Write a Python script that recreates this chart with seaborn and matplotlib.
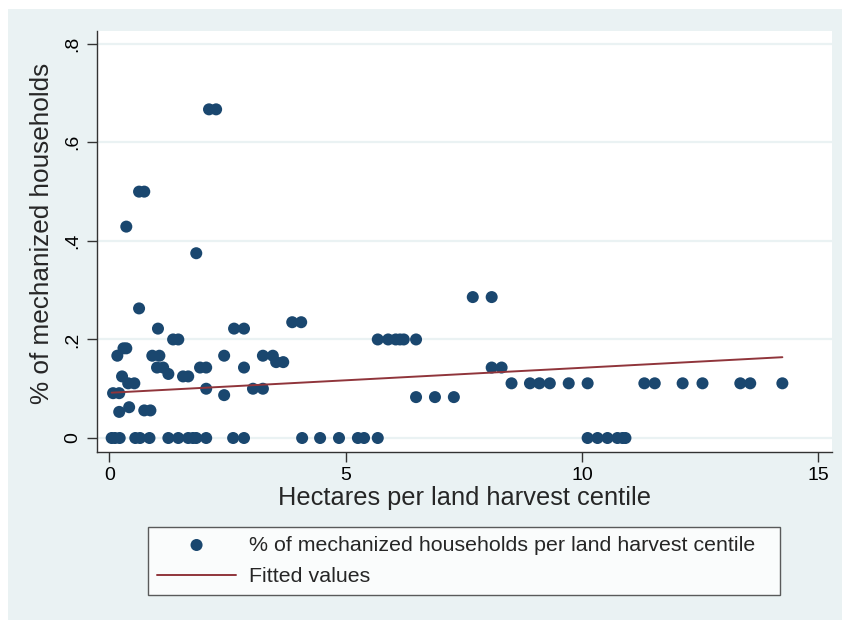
import matplotlib
matplotlib.use('Agg')
import matplotlib.pyplot as plt
import seaborn as sns
import pandas as pd
from matplotlib.patches import Rectangle

# hectares per centile and share of mechanized households
zero_x = [0.05, 0.12, 0.22, 0.55, 0.65, 0.85, 1.25, 1.46, 1.67, 1.77, 1.84, 2.05,
          2.62, 2.85, 4.08, 4.46, 4.86, 5.26, 5.39, 5.68,
          10.12, 10.33, 10.54, 10.75, 10.86, 10.92]

pos_x = [0.08, 0.21, 0.21, 0.42, 0.40, 0.53, 0.27, 0.17, 0.30, 0.36, 0.36,
         0.63, 0.74, 0.63, 0.74, 0.87, 0.91, 1.06, 1.03, 1.01, 1.14, 1.25,
         1.35, 1.46, 1.56, 1.67, 1.84, 1.92, 2.05, 2.05, 2.11, 2.26,
         2.43, 2.43, 2.64, 2.85, 2.85, 3.04, 3.25, 3.25, 3.46, 3.53, 3.68,
         3.87, 4.06,
         5.68, 5.90, 6.06, 6.15, 6.23, 6.49,
         6.49, 6.89, 7.29, 7.69, 8.09, 8.09, 8.30,
         8.51, 8.90, 9.10, 9.32, 9.72, 10.12, 11.32, 11.54, 12.13, 12.55,
         13.35, 13.56, 14.24]
pos_y = [0.091, 0.091, 0.053, 0.0625, 0.111, 0.111, 0.125, 0.167, 0.182, 0.182, 0.429,
         0.5, 0.5, 0.263, 0.056, 0.056, 0.167, 0.167, 0.222, 0.143, 0.143, 0.13,
         0.2, 0.2, 0.125, 0.125, 0.375, 0.143, 0.143, 0.1, 0.667, 0.667,
         0.167, 0.087, 0.222, 0.222, 0.143, 0.1, 0.1, 0.167, 0.167, 0.154, 0.154,
         0.235, 0.235,
         0.2, 0.2, 0.2, 0.2, 0.2, 0.2,
         0.083, 0.083, 0.083, 0.286, 0.286, 0.143, 0.143,
         0.111, 0.111, 0.111, 0.111, 0.111, 0.111, 0.111, 0.111, 0.111, 0.111,
         0.111, 0.111, 0.111]

fit_x = [0.05, 14.24]
fit_y = [0.092, 0.164]

y_ticks = [0, 0.2, 0.4, 0.6, 0.8]
y_tick_labels = ['0', '.2', '.4', '.6', '.8']
x_ticks = [0, 5, 10, 15]

scatter_label = '% of mechanized households per land harvest centile'
fit_label = 'Fitted values'

df = pd.DataFrame({'hectares': zero_x + pos_x,
                   'mech': [0.0] * len(zero_x) + pos_y})
df_fit = pd.DataFrame({'hectares': fit_x, 'fitted': fit_y})

sns.set_theme(style='white')
plt.rcParams['font.family'] = ['Liberation Sans', 'DejaVu Sans']

navy = '#1a476f'
maroon = '#90353b'
bg = '#eaf2f3'

fig = plt.figure(figsize=(8.42, 6.2), dpi=100)
fig.patch.set_facecolor('white')
fig.patches.append(Rectangle((8 / 842, 0), 1 - 8 / 842, 611 / 620, transform=fig.transFigure,
                             facecolor=bg, edgecolor='none', zorder=-10))

ax = fig.add_axes([97 / 842, 168 / 620, 735 / 842, 421 / 620])
ax.set_facecolor('white')

for t in y_ticks:
    ax.axhline(t, color=bg, linewidth=1.6, zorder=0)

sns.scatterplot(data=df, x='hectares', y='mech', color=navy, s=75, edgecolor='none',
                label=scatter_label, ax=ax, zorder=3)
sns.lineplot(data=df_fit, x='hectares', y='fitted', color=maroon, linewidth=1.4,
             label=fit_label, ax=ax, zorder=4)

ax.set_xlim(-0.26, 15.29)
ax.set_ylim(-0.0284, 0.826)
ax.set_xticks(x_ticks)
ax.set_xticklabels([str(v) for v in x_ticks])
ax.set_yticks(y_ticks)
ax.set_yticklabels(y_tick_labels, rotation=90, va='center')
ax.tick_params(axis='both', direction='out', length=7, width=1, color='#333333',
               labelsize=14, labelcolor='black', left=True, bottom=True)
ax.tick_params(axis='y', pad=4)

for side in ['top', 'right']:
    ax.spines[side].set_visible(False)
for side in ['left', 'bottom']:
    ax.spines[side].set_color('#333333')
    ax.spines[side].set_linewidth(1)

ax.set_xlabel('Hectares per land harvest centile', fontsize=18.3, labelpad=2)
ax.set_ylabel('% of mechanized households', fontsize=18.8, labelpad=8)
ax.yaxis.label.set_y(0.52)

handles, labels = ax.get_legend_handles_labels()
ax.get_legend().remove()
leg = fig.legend(handles, labels, loc='lower left',
                 bbox_to_anchor=(148 / 842, 25 / 620, 632 / 842, 69 / 620),
                 mode='expand', fontsize=15.4, frameon=True, fancybox=False,
                 handlelength=3.7, handletextpad=0.6, labelspacing=0.58,
                 borderpad=0.42, borderaxespad=0)
leg.get_frame().set_edgecolor('#333333')
leg.get_frame().set_linewidth(1)
leg.get_frame().set_facecolor('white')

plt.savefig('out.png', dpi=100, facecolor=fig.get_facecolor())
plt.close()
